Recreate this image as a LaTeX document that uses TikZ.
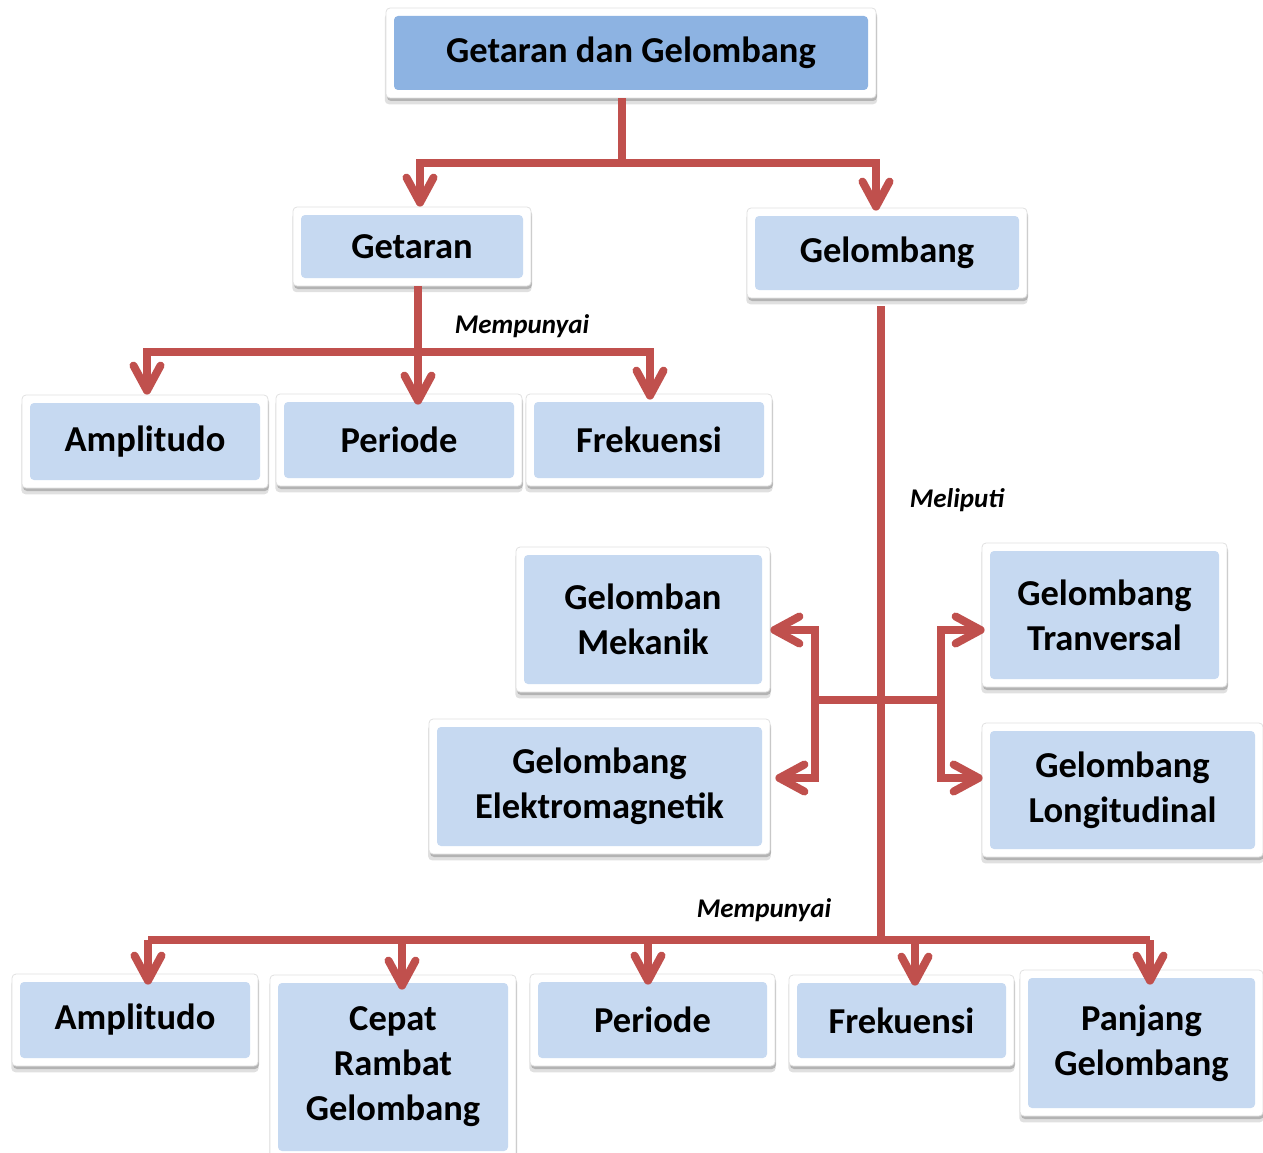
\documentclass[tikz,border=0pt]{standalone}
\usepackage{fontspec}
\setmainfont{Carlito}
\usetikzlibrary{arrows.meta,shadows,calc}
\definecolor{boxblue}{HTML}{C6D9F1}
\definecolor{topblue}{HTML}{8DB3E2}
\definecolor{linkred}{HTML}{C0504D}

\tikzset{
  framed/.style={fill=white, draw=black!12, line width=0.8pt, rounded corners=4pt,
    inner sep=0pt, align=center,
    font=\fontsize{36.5}{45}\selectfont\bfseries,
    general shadow={shadow xshift=0pt, shadow yshift=-6pt, opacity=0.12, fill=black, shadow scale=1.005},
    drop shadow={shadow xshift=1pt, shadow yshift=-3pt, opacity=0.3, fill=black!70},
    path picture={\fill[#1]
      ([shift={(8pt,-8pt)}]path picture bounding box.north west) rectangle
      ([shift={(-8pt,8pt)}]path picture bounding box.south east);}},
  framed/.default=boxblue,
  link/.style={draw=linkred, line width=8pt,
    preaction={draw=black, opacity=0.12, transform canvas={shift={(1pt,-2.5pt)}}}},
  arr/.style={link, -{Straight Barb[length=25pt, width=27pt, round]}},
  lbl/.style={font=\fontsize{27}{32}\selectfont\bfseries\itshape, inner sep=0pt}
}

\begin{document}
\begin{tikzpicture}[x=1pt, y=-1pt]
\useasboundingbox (0,0) rectangle (1263,1153);

% boxes
\node[framed=topblue, minimum width=490pt, minimum height=90pt] (top) at (631,53) {Getaran dan Gelombang};
\node[framed, minimum width=238pt, minimum height=79pt] (getaran) at (412,246.5) {Getaran};
\node[framed, minimum width=280pt, minimum height=90pt] (gelombang) at (887,253) {Gelombang};

\node[framed, minimum width=246pt, minimum height=93pt] (amp1) at (145,441.5) {Amplitudo};
\node[framed, minimum width=246pt, minimum height=92pt] (per1) at (399,440) {Periode};
\node[framed, minimum width=246pt, minimum height=92pt] (frek1) at (649,440) {Frekuensi};

\node[framed, minimum width=254pt, minimum height=145pt] (mekanik) at (643,619.5) {Gelomban\\Mekanik};
\node[framed, minimum width=341pt, minimum height=135pt] (elektro) at (599.5,786.5) {Gelombang\\Elektromagnetik};
\node[framed, minimum width=245pt, minimum height=144pt] (trans) at (1104.5,615) {Gelombang\\Tranversal};
\node[framed, minimum width=281pt, minimum height=134pt] (longi) at (1122.5,790) {Gelombang\\Longitudinal};

\node[framed, minimum width=246pt, minimum height=92pt] (amp2) at (135,1020) {Amplitudo};
\node[framed, minimum width=246pt, minimum height=184pt] (cepat) at (393,1067) {Cepat\\Rambat\\Gelombang};
\node[framed, minimum width=245pt, minimum height=92pt] (per2) at (652.5,1020) {Periode};
\node[framed, minimum width=225pt, minimum height=91pt] (frek2) at (901.5,1020.5) {Frekuensi};
\node[framed, minimum width=243pt, minimum height=146pt] (panjang) at (1141.5,1043) {Panjang\\Gelombang};

% labels
\node[lbl] (lmp1) at (522,326) {Mempunyai};
\node[lbl] (lmel) at (957,500) {Meliputi};
\node[lbl] (lmp2) at (764,910) {Mempunyai};

% junction points
\coordinate (t1) at (622,163);
\coordinate (g1) at (418,352);
\coordinate (w1) at (881,940);
\coordinate (ml) at (815,700);
\coordinate (mr) at (941,700);
\coordinate (ylo) at (0,630);
\coordinate (yhi) at (0,778);
\coordinate (c1) at (148,940);
\coordinate (c2) at (402,940);
\coordinate (c3) at (648,940);
\coordinate (c4) at (915,940);
\coordinate (c5) at (1150,940);

% top level
\draw[link] (top.south -| t1) -- (t1);
\draw[arr] (t1) -| ([xshift=8pt]getaran.north);
\draw[arr] (t1) -| ([xshift=-11pt,yshift=-3pt]gelombang.north);

% Getaran branch
\draw[arr] (getaran.south -| g1) -- ([yshift=-11pt]g1 |- per1.north);
\draw[arr] (g1) -| ([xshift=2pt]amp1.north);
\draw[arr] (g1) -| ([xshift=1pt,yshift=-6pt]frek1.north);

% Gelombang branch
\draw[link] ([yshift=-8pt]gelombang.south -| w1) -- (w1);
\draw[link] (ml) -- (mr);
\draw[arr] (ml) |- (mekanik.east |- ylo);
\draw[arr] (ml) |- ([xshift=5pt]elektro.east |- yhi);
\draw[arr] (mr) |- ([xshift=3pt]trans.west |- ylo);
\draw[arr] (mr) |- ([xshift=1pt]longi.west |- yhi);

% bottom row
\draw[link] (c1) -- (c5);
\draw[arr] (c1) -- ([yshift=-11pt]c1 |- amp2.north);
\draw[arr] (c2) -- ([yshift=-15pt]c2 |- cepat.north);
\draw[arr] (c3) -- ([yshift=-11pt]c3 |- per2.north);
\draw[arr] (c4) -- ([yshift=-11pt]c4 |- frek2.north);
\draw[arr] (c5) -- ([yshift=-15pt]c5 |- panjang.north);
\end{tikzpicture}
\end{document}
